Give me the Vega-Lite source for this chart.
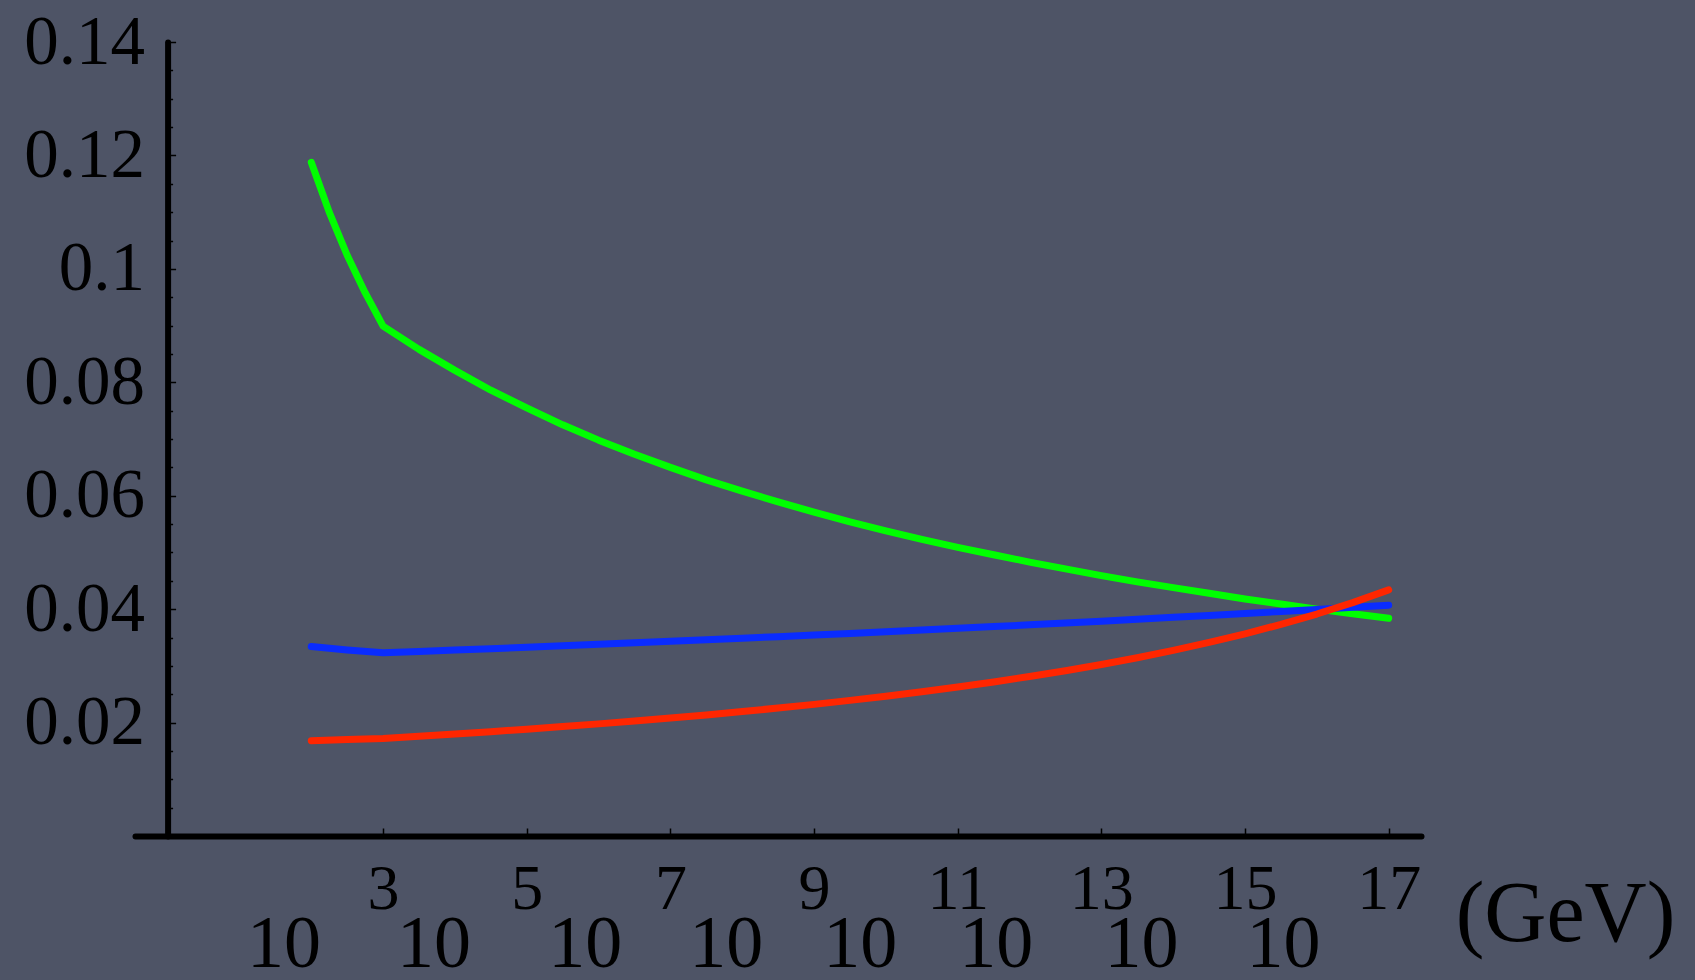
{
  "$schema": "https://vega.github.io/schema/vega-lite/v6.json",
  "autosize": "none",
  "width": 1286,
  "height": 794,
  "padding": {"left": 135, "top": 42, "right": 274, "bottom": 144},
  "background": "#4e5466",
  "config": {"view": {"stroke": null}, "font": "Liberation Serif"},
  "datasets": {
    "curves": [
      {"logE": 2, "alpha": 0.1188, "series": "green"},
      {"logE": 2.25, "alpha": 0.110, "series": "green"},
      {"logE": 2.5, "alpha": 0.1024, "series": "green"},
      {"logE": 2.75, "alpha": 0.0958, "series": "green"},
      {"logE": 3, "alpha": 0.0899, "series": "green"},
      {"logE": 3.5, "alpha": 0.0858, "series": "green"},
      {"logE": 4, "alpha": 0.0821, "series": "green"},
      {"logE": 4.5, "alpha": 0.0786, "series": "green"},
      {"logE": 5, "alpha": 0.0755, "series": "green"},
      {"logE": 5.5, "alpha": 0.0725, "series": "green"},
      {"logE": 6, "alpha": 0.0698, "series": "green"},
      {"logE": 6.5, "alpha": 0.0673, "series": "green"},
      {"logE": 7, "alpha": 0.0650, "series": "green"},
      {"logE": 7.5, "alpha": 0.0628, "series": "green"},
      {"logE": 8, "alpha": 0.0608, "series": "green"},
      {"logE": 8.5, "alpha": 0.0589, "series": "green"},
      {"logE": 9, "alpha": 0.0571, "series": "green"},
      {"logE": 9.5, "alpha": 0.0554, "series": "green"},
      {"logE": 10, "alpha": 0.0538, "series": "green"},
      {"logE": 10.5, "alpha": 0.0523, "series": "green"},
      {"logE": 11, "alpha": 0.0509, "series": "green"},
      {"logE": 11.5, "alpha": 0.0496, "series": "green"},
      {"logE": 12, "alpha": 0.0483, "series": "green"},
      {"logE": 12.5, "alpha": 0.0471, "series": "green"},
      {"logE": 13, "alpha": 0.0459, "series": "green"},
      {"logE": 13.5, "alpha": 0.0448, "series": "green"},
      {"logE": 14, "alpha": 0.0438, "series": "green"},
      {"logE": 14.5, "alpha": 0.0428, "series": "green"},
      {"logE": 15, "alpha": 0.0418, "series": "green"},
      {"logE": 15.5, "alpha": 0.0409, "series": "green"},
      {"logE": 16, "alpha": 0.0400, "series": "green"},
      {"logE": 16.5, "alpha": 0.0392, "series": "green"},
      {"logE": 17, "alpha": 0.0384, "series": "green"},
      {"logE": 2, "alpha": 0.0334, "series": "blue"},
      {"logE": 2.5, "alpha": 0.0328, "series": "blue"},
      {"logE": 3, "alpha": 0.0323, "series": "blue"},
      {"logE": 3.5, "alpha": 0.03254, "series": "blue"},
      {"logE": 4, "alpha": 0.03279, "series": "blue"},
      {"logE": 4.5, "alpha": 0.03303, "series": "blue"},
      {"logE": 5, "alpha": 0.03328, "series": "blue"},
      {"logE": 5.5, "alpha": 0.03353, "series": "blue"},
      {"logE": 6, "alpha": 0.03379, "series": "blue"},
      {"logE": 6.5, "alpha": 0.03406, "series": "blue"},
      {"logE": 7, "alpha": 0.03432, "series": "blue"},
      {"logE": 7.5, "alpha": 0.03459, "series": "blue"},
      {"logE": 8, "alpha": 0.03487, "series": "blue"},
      {"logE": 8.5, "alpha": 0.03515, "series": "blue"},
      {"logE": 9, "alpha": 0.03543, "series": "blue"},
      {"logE": 9.5, "alpha": 0.03572, "series": "blue"},
      {"logE": 10, "alpha": 0.03601, "series": "blue"},
      {"logE": 10.5, "alpha": 0.03631, "series": "blue"},
      {"logE": 11, "alpha": 0.03661, "series": "blue"},
      {"logE": 11.5, "alpha": 0.03692, "series": "blue"},
      {"logE": 12, "alpha": 0.03723, "series": "blue"},
      {"logE": 12.5, "alpha": 0.03755, "series": "blue"},
      {"logE": 13, "alpha": 0.03788, "series": "blue"},
      {"logE": 13.5, "alpha": 0.03821, "series": "blue"},
      {"logE": 14, "alpha": 0.03855, "series": "blue"},
      {"logE": 14.5, "alpha": 0.03889, "series": "blue"},
      {"logE": 15, "alpha": 0.03923, "series": "blue"},
      {"logE": 15.5, "alpha": 0.03959, "series": "blue"},
      {"logE": 16, "alpha": 0.03995, "series": "blue"},
      {"logE": 16.5, "alpha": 0.04032, "series": "blue"},
      {"logE": 17, "alpha": 0.04070, "series": "blue"},
      {"logE": 2, "alpha": 0.0168, "series": "red"},
      {"logE": 2.5, "alpha": 0.0170, "series": "red"},
      {"logE": 3, "alpha": 0.0172, "series": "red"},
      {"logE": 3.5, "alpha": 0.01759, "series": "red"},
      {"logE": 4, "alpha": 0.01799, "series": "red"},
      {"logE": 4.5, "alpha": 0.01840, "series": "red"},
      {"logE": 5, "alpha": 0.01884, "series": "red"},
      {"logE": 5.5, "alpha": 0.01929, "series": "red"},
      {"logE": 6, "alpha": 0.01977, "series": "red"},
      {"logE": 6.5, "alpha": 0.02027, "series": "red"},
      {"logE": 7, "alpha": 0.02080, "series": "red"},
      {"logE": 7.5, "alpha": 0.02135, "series": "red"},
      {"logE": 8, "alpha": 0.02194, "series": "red"},
      {"logE": 8.5, "alpha": 0.02256, "series": "red"},
      {"logE": 9, "alpha": 0.02321, "series": "red"},
      {"logE": 9.5, "alpha": 0.02391, "series": "red"},
      {"logE": 10, "alpha": 0.02465, "series": "red"},
      {"logE": 10.5, "alpha": 0.02543, "series": "red"},
      {"logE": 11, "alpha": 0.02627, "series": "red"},
      {"logE": 11.5, "alpha": 0.02716, "series": "red"},
      {"logE": 12, "alpha": 0.02812, "series": "red"},
      {"logE": 12.5, "alpha": 0.02915, "series": "red"},
      {"logE": 13, "alpha": 0.03025, "series": "red"},
      {"logE": 13.5, "alpha": 0.03144, "series": "red"},
      {"logE": 14, "alpha": 0.03272, "series": "red"},
      {"logE": 14.5, "alpha": 0.03413, "series": "red"},
      {"logE": 15, "alpha": 0.03565, "series": "red"},
      {"logE": 15.5, "alpha": 0.03731, "series": "red"},
      {"logE": 16, "alpha": 0.03914, "series": "red"},
      {"logE": 16.5, "alpha": 0.04115, "series": "red"},
      {"logE": 17, "alpha": 0.04340, "series": "red"}
    ],
    "tens": [
      {"pos": 1.621, "label": "10"},
      {"pos": 3.710, "label": "10"},
      {"pos": 5.814, "label": "10"},
      {"pos": 7.777, "label": "10"},
      {"pos": 9.643, "label": "10"},
      {"pos": 11.538, "label": "10"},
      {"pos": 13.557, "label": "10"},
      {"pos": 15.535, "label": "10"}
    ]
  },
  "layer": [
    {
      "data": {"name": "curves"},
      "mark": {"type": "line", "strokeWidth": 7, "strokeCap": "round", "strokeJoin": "round"},
      "encoding": {
        "x": {
          "field": "logE", "type": "quantitative",
          "scale": {"domain": [-0.454, 17.45], "nice": false, "zero": false},
          "axis": {
            "orient": "bottom",
            "values": [3, 5, 7, 9, 11, 13, 15, 17],
            "format": "d",
            "grid": false,
            "domainColor": "black", "domainWidth": 6, "domainCap": "round",
            "tickColor": "black", "tickWidth": 1.5, "tickSize": -8,
            "labelFont": "Liberation Serif", "labelFontSize": 64, "labelColor": "black",
            "labelBaseline": "alphabetic", "labelPadding": 80, "labelFlush": false, "labelOverlap": false,
            "title": "(GeV)", "titleFont": "Liberation Serif", "titleFontSize": 86, "titleFontWeight": "normal",
            "titleColor": "black", "titleX": 1430, "titleY": 104, "titleAlign": "center", "titleBaseline": "alphabetic", "titleAnchor": null
          }
        },
        "y": {
          "field": "alpha", "type": "quantitative",
          "scale": {"domain": [0, 0.14], "nice": false},
          "axis": {
            "orient": "left",
            "offset": -32.6,
            "values": [0.02, 0.04, 0.06, 0.08, 0.1, 0.12, 0.14],
            "labelExpr": "format(datum.value, '~g')",
            "grid": false,
            "domainColor": "black", "domainWidth": 6, "domainCap": "round",
            "tickColor": "black", "tickWidth": 1.5, "tickSize": -8,
            "labelFont": "Liberation Serif", "labelFontSize": 69, "labelColor": "black",
            "labelPadding": 31, "labelFlush": false, "labelOverlap": false,
            "title": null
          }
        },
        "color": {
          "field": "series", "type": "nominal",
          "scale": {"domain": ["red", "blue", "green"], "range": ["#ff2600", "#0a2cff", "#00ff00"]},
          "legend": null
        }
      }
    },
    {
      "data": {"name": "tens"},
      "mark": {"type": "text", "fontSize": 74, "font": "Liberation Serif", "color": "black", "align": "center", "baseline": "alphabetic", "dy": 131},
      "encoding": {
        "x": {"field": "pos", "type": "quantitative"},
        "y": {
          "datum": 0, "type": "quantitative",
          "axis": {
            "orient": "left",
            "offset": -32.6,
            "values": [0.005, 0.01, 0.015, 0.025, 0.03, 0.035, 0.045, 0.05, 0.055, 0.065, 0.07, 0.075, 0.085, 0.09, 0.095, 0.105, 0.11, 0.115, 0.125, 0.13, 0.135],
            "labels": false, "domain": false, "grid": false,
            "tickColor": "black", "tickWidth": 1.5, "tickSize": -5,
            "title": null
          }
        },
        "text": {"field": "label"}
      }
    }
  ],
  "resolve": {"axis": {"y": "independent"}}
}
